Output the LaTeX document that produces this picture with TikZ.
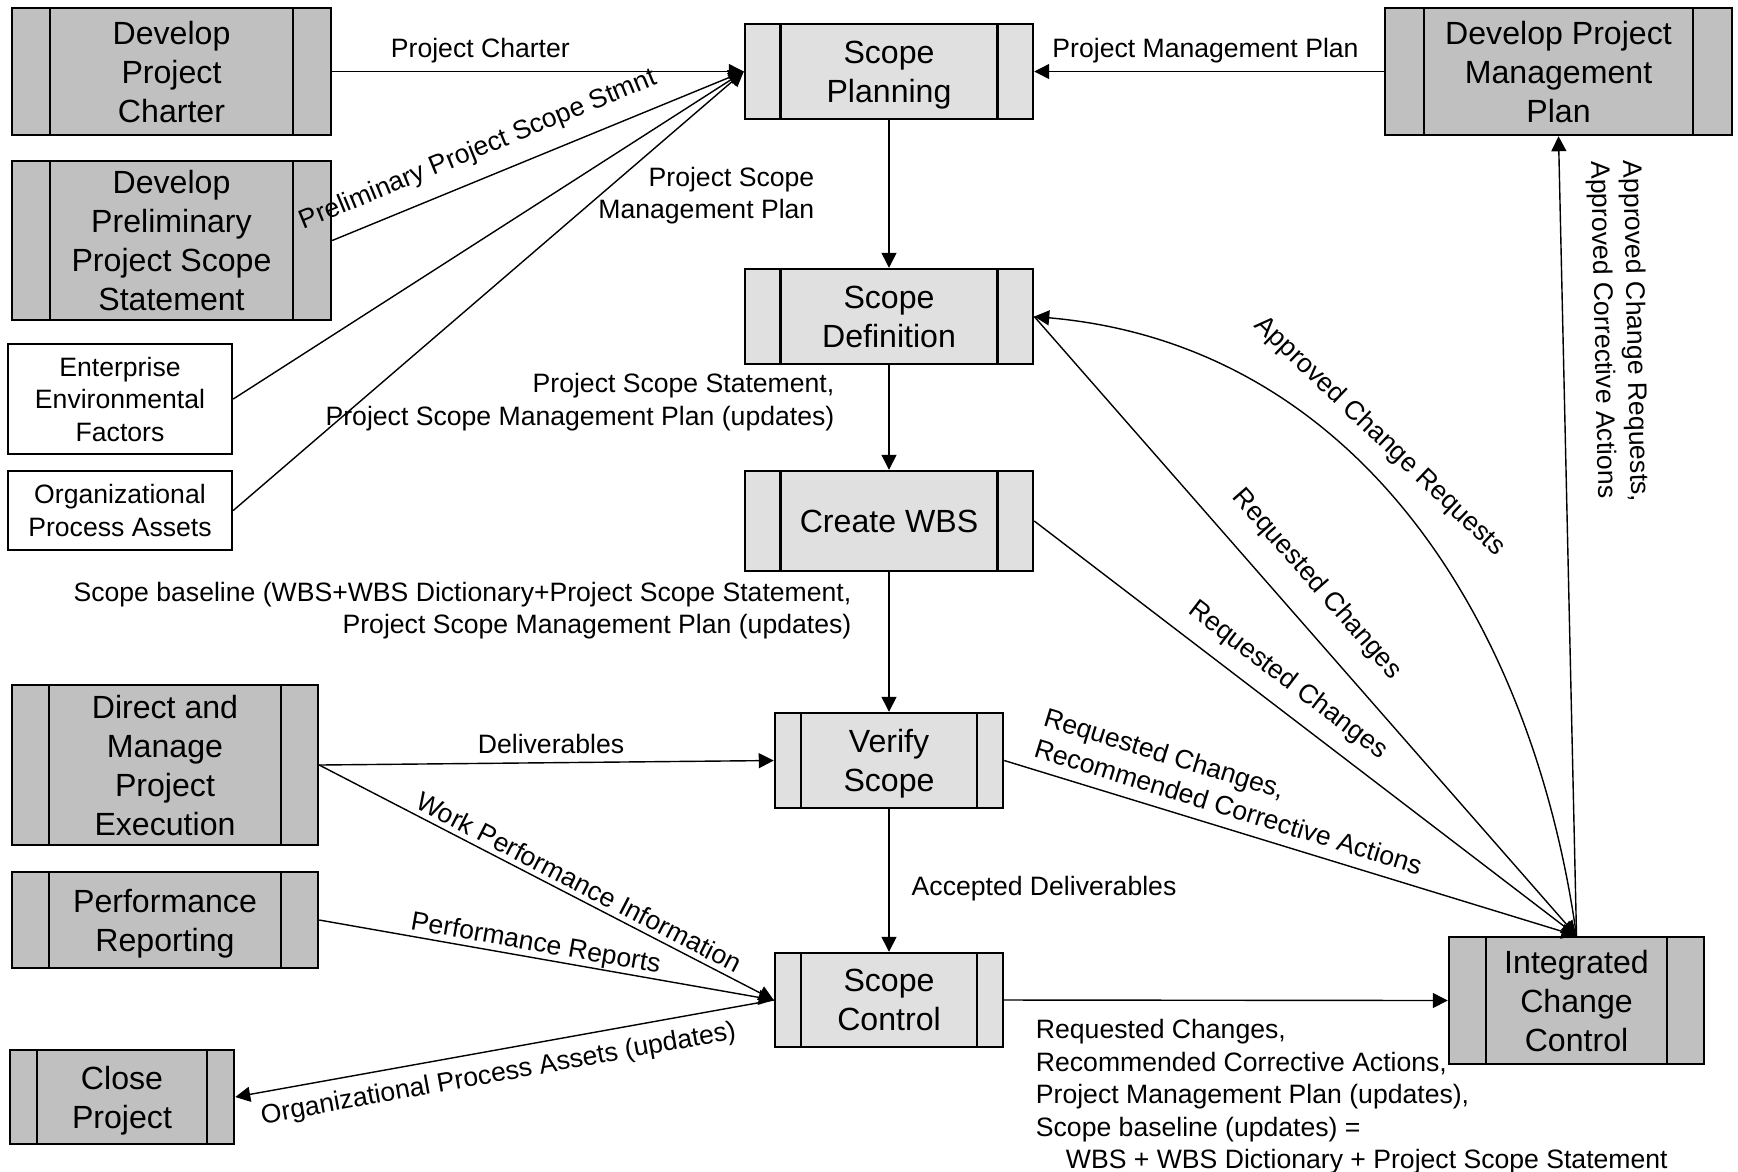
\documentclass[tikz,border=0pt]{standalone}
\usepackage{fontspec}
\setmainfont{Liberation Sans}
\usepackage{tikz}
\usetikzlibrary{
	arrows.meta,
	calc,
	positioning,
}
\newcommand{\boxfont}{\fontsize{0.321cm}{0.39cm}\selectfont}
\newcommand{\flowfont}{\fontsize{0.266cm}{0.325cm}\selectfont}
\definecolor{outerfill}{RGB}{192,192,192}
\definecolor{scopefill}{RGB}{224,224,224}
\tikzset{bar width/.store in=\barwidth, bar width=0.37cm}
\tikzset{box size/.style 2 args={minimum width=#1cm,minimum height=#2cm}}
\tikzset{process node/.style={draw,fill=#1,line width=0.7pt,inner sep=0mm,align=center,font=\boxfont,text depth=-0.035cm,
	path picture={
		\draw[-,line width=0.6pt] ([xshift=\barwidth]path picture bounding box.north west) -- ([xshift=\barwidth]path picture bounding box.south west);
		\draw[-,line width=0.6pt] ([xshift=-\barwidth]path picture bounding box.north east) -- ([xshift=-\barwidth]path picture bounding box.south east);
	}}}
\tikzset{input node/.style={draw,fill=white,line width=0.7pt,inner sep=0mm,align=center,font=\flowfont}}
\tikzset{flow label/.style={draw=none,font=\flowfont,inner sep=0.8mm}}
\tikzset{flow label above/.style={flow label,sloped,above}}
\tikzset{flow label below/.style={flow label,sloped,below}}
\tikzset{
	>={Triangle[length=0.15cm,width=0.15cm]},
	line width=0.55pt,
}

\begin{document}
\begin{tikzpicture}[x=1cm,y=1cm]

\useasboundingbox (0,0) rectangle (17.38,-11.71);

% outside processes and inputs
\node[process node=outerfill, box size={3.19}{1.27}, bar width=0.38cm] (charter) at (1.715,-0.715) {Develop\\Project\\Charter};
\node[process node=outerfill, box size={3.19}{1.59}, bar width=0.38cm] (prelim) at (1.715,-2.405) {Develop\\Preliminary\\Project Scope\\Statement};
\node[input node, box size={2.24}{1.10}] (enterprise) at (1.20,-3.99) {Enterprise\\Environmental\\Factors};
\node[input node, box size={2.24}{0.79}] (assets) at (1.20,-5.105) {Organizational\\Process Assets};
\node[process node=outerfill, box size={3.47}{1.27}, bar width=0.39cm] (pmplan) at (15.585,-0.715) {Develop Project\\Management\\Plan};
\node[process node=outerfill, box size={3.06}{1.60}, bar width=0.37cm] (execution) at (1.65,-7.65) {Direct and\\Manage\\Project\\Execution};
\node[process node=outerfill, box size={3.06}{0.96}, bar width=0.37cm] (reporting) at (1.65,-9.20) {Performance\\Reporting};
\node[process node=outerfill, box size={2.24}{0.94}, bar width=0.27cm] (closing) at (1.22,-10.97) {Close\\Project};
\node[process node=outerfill, box size={2.55}{1.27}, bar width=0.37cm] (icc) at (15.765,-10.005) {Integrated\\Change\\Control};

% scope processes
\node[process node=scopefill, box size={2.88}{0.95}, bar width=0.355cm] (planning) at (8.89,-0.715) {Scope\\Planning};
\node[process node=scopefill, box size={2.88}{0.95}, bar width=0.355cm] (definition) at (8.89,-3.165) {Scope\\Definition};
\node[process node=scopefill, box size={2.88}{1.00}, bar width=0.355cm] (wbs) at (8.89,-5.21) {Create WBS};
\node[process node=scopefill, box size={2.28}{0.95}, bar width=0.26cm] (verify) at (8.89,-7.605) {Verify\\Scope};
\node[process node=scopefill, box size={2.28}{0.94}, bar width=0.26cm] (control) at (8.89,-10.00) {Scope\\Control};

% into scope planning
\draw[->] (charter.east) -- (planning.west) node[flow label, above, pos=0.36] (lbl-charter) {Project Charter};
\draw[->] (prelim.east) -- (planning.west) node[flow label above, pos=0.381, above=0.07cm] (lbl-prelim) {Preliminary Project Scope Stmnt};
\draw[->] (enterprise.east) -- (planning.west);
\draw[->] (assets.east) -- (planning.west);
\draw[->] (pmplan.west) -- (planning.east) node[flow label, above, pos=0.51] (lbl-pmplan) {Project Management Plan};

% down the middle
\draw[->] (planning.south) -- (definition.north) node[flow label, left=0.66cm, pos=0.51, align=right] (lbl-planning) {Project Scope\\Management Plan};
\draw[->] (definition.south) -- (wbs.north) node[flow label, left=0.46cm, pos=0.355, align=right] (lbl-definition) {Project Scope Statement,\\Project Scope Management Plan (updates)};
\draw[->] (wbs.south) -- (verify.north) node[flow label, left=0.29cm, pos=0.275, align=right] (lbl-wbs) {Scope baseline (WBS+WBS Dictionary+Project Scope Statement,\\Project Scope Management Plan (updates)};
\draw[->] (verify.south) -- (control.north) node[flow label, right=0.14cm, pos=0.558] (lbl-verify) {Accepted Deliverables};

% execution and reporting
\draw[->] (execution.east) -- (verify.west) node[flow label, above, pos=0.51] (lbl-deliv) {Deliverables};
\draw[->] (execution.east) -- (control.west) node[flow label above, pos=0.556, above=-0.03cm] (lbl-work) {Work Performance Information};
\draw[->] (reporting.east) -- (control.west) node[flow label above, pos=0.471, above=-0.075cm] (lbl-reports) {Performance Reports};
\draw[->] (control.west) -- (closing.east) node[flow label below, pos=0.519, below=0.035cm] (lbl-closing) {Organizational Process Assets (updates)};

% change control
\draw[->] (control.east) -- (icc.west) node[flow label, pos=0, anchor=north west, align=left, xshift=0.23cm, yshift=-0.108cm] (lbl-control) {Requested Changes,\\Recommended Corrective Actions,\\Project Management Plan (updates),\\Scope baseline (updates) =\\\hspace*{0.3cm}WBS + WBS Dictionary + Project Scope Statement};
\draw[->] (verify.east) -- (icc.north) node[flow label above, pos=0.381, above=0.03cm, align=left] (lbl-verify-icc) {Requested Changes,\\Recommended Corrective Actions};
\draw[->] (wbs.east) -- (icc.north) node[flow label above, pos=0.437, above=0.06cm] (lbl-wbs-icc) {Requested Changes};
\draw[->] (definition.east) -- (icc.north) node[flow label above, pos=0.471, above=0.15cm] (lbl-definition-icc) {Requested Changes};
\draw[->] (icc.north) to[out=98,in=-5] node[flow label above, pos=0.59, above=0.12cm] (lbl-approved) {Approved Change Requests} (definition.east);
\draw[<-] (pmplan.south) -- (icc.north) node[flow label above, pos=0.246, align=left, above=0.18cm] (lbl-pmplan-icc) {Approved Change Requests,\\Approved Corrective Actions};

\end{tikzpicture}
\end{document}
